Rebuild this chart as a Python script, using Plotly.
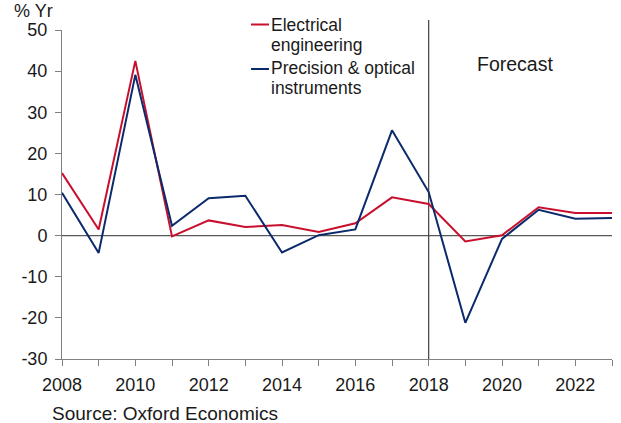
import plotly.graph_objects as go

years = list(range(2008, 2024))
electrical = [15.2, 1.5, 42.5, -0.2, 3.7, 2.1, 2.6, 0.9, 3.0, 9.3, 7.7, -1.4, 0.1, 6.9, 5.5, 5.5]
precision = [10.4, -4.2, 39.1, 2.4, 9.1, 9.7, -4.1, 0.1, 1.5, 25.6, 10.6, -21.2, -0.8, 6.3, 4.1, 4.3]
series_lines = [["Electrical", "engineering"], ["Precision & optical", "instruments"]]
series_names = ["Electrical engineering", "Precision & optical instruments"]
series_colors = ["#C8102E", "#0B2A6B"]
y_ticks = [-30, -20, -10, 0, 10, 20, 30, 40, 50]
y_ticktext = [str(v) for v in y_ticks]
x_ticks = years
x_ticktext = [str(y) if y % 2 == 0 else "" for y in years]
forecast_year = 2018

FONT = "Liberation Sans, Arial, sans-serif"
AX = "#808080"
TXT = "#1a1a1a"

W, H = 621, 423
L, R, T, B = 62, 9, 30, 64
PW, PH = W - L - R, H - T - B


def px(xr):  # page x -> paper
    return (xr - L) / PW


def py(yr):  # page y -> paper
    return (H - B - yr) / PH


fig = go.Figure()
for name, vals, col in zip(series_names, [electrical, precision], series_colors):
    fig.add_trace(go.Scatter(x=years, y=vals, mode="lines", name=name,
                             line=dict(color=col, width=2), showlegend=False))

# zero line
fig.add_shape(type="line", xref="paper", yref="y", x0=0, x1=1, y0=0, y1=0,
              line=dict(color="#595959", width=1.2), layer="below")
# forecast divider
fig.add_shape(type="line", xref="x", yref="paper", x0=forecast_year, x1=forecast_year,
              y0=0, y1=py(20), line=dict(color="#404040", width=1.2), layer="below")

# manual legend
line_y = [24.5, 69]
text_y = [[25, 45], [68, 88]]
for lines, col, ly, tys in zip(series_lines, series_colors, line_y, text_y):
    fig.add_shape(type="line", xref="paper", yref="paper", x0=px(251), x1=px(269),
                  y0=py(ly), y1=py(ly), line=dict(color=col, width=2))
    for txt, ty in zip(lines, tys):
        fig.add_annotation(xref="paper", yref="paper", x=px(271), y=py(ty), text=txt,
                           showarrow=False, xanchor="left", yanchor="middle", align="left",
                           xshift=-2, font=dict(family=FONT, size=17.5, color=TXT))

fig.add_annotation(xref="paper", yref="paper", x=px(514.5), y=py(64), text="Forecast",
                   showarrow=False, xanchor="center", yanchor="middle",
                   font=dict(family=FONT, size=19.5, color=TXT))
fig.add_annotation(xref="paper", yref="paper", x=px(14), y=py(11), text="% Yr",
                   showarrow=False, xanchor="left", yanchor="middle", xshift=-2,
                   font=dict(family=FONT, size=18, color=TXT))
fig.add_annotation(xref="paper", yref="paper", x=px(52), y=py(413), text="Source: Oxford Economics",
                   showarrow=False, xanchor="left", yanchor="middle", xshift=-2,
                   font=dict(family=FONT, size=19, color=TXT))

fig.update_layout(
    width=W, height=H,
    margin=dict(l=L, r=R, t=T, b=B),
    paper_bgcolor="white", plot_bgcolor="white",
    font=dict(family=FONT, size=18, color=TXT),
    showlegend=False,
)
fig.update_xaxes(range=[2008, 2023], tickvals=x_ticks, ticktext=x_ticktext,
                 showgrid=False, zeroline=False, showline=True, linecolor=AX, linewidth=1,
                 ticks="outside", ticklen=6, tickcolor=AX, tickfont=dict(size=18),
                 ticklabelstandoff=3)
fig.update_yaxes(range=[-30, 50], tickvals=y_ticks, ticktext=y_ticktext,
                 showgrid=False, zeroline=False,
                 showline=True, linecolor=AX, linewidth=1,
                 ticks="outside", ticklen=6, tickcolor=AX, tickfont=dict(size=18),
                 ticklabelstandoff=4)

fig.write_html("out.html", config={"displayModeBar": False},
               post_script="document.body.style.margin='0px';document.body.style.overflow='hidden';")
